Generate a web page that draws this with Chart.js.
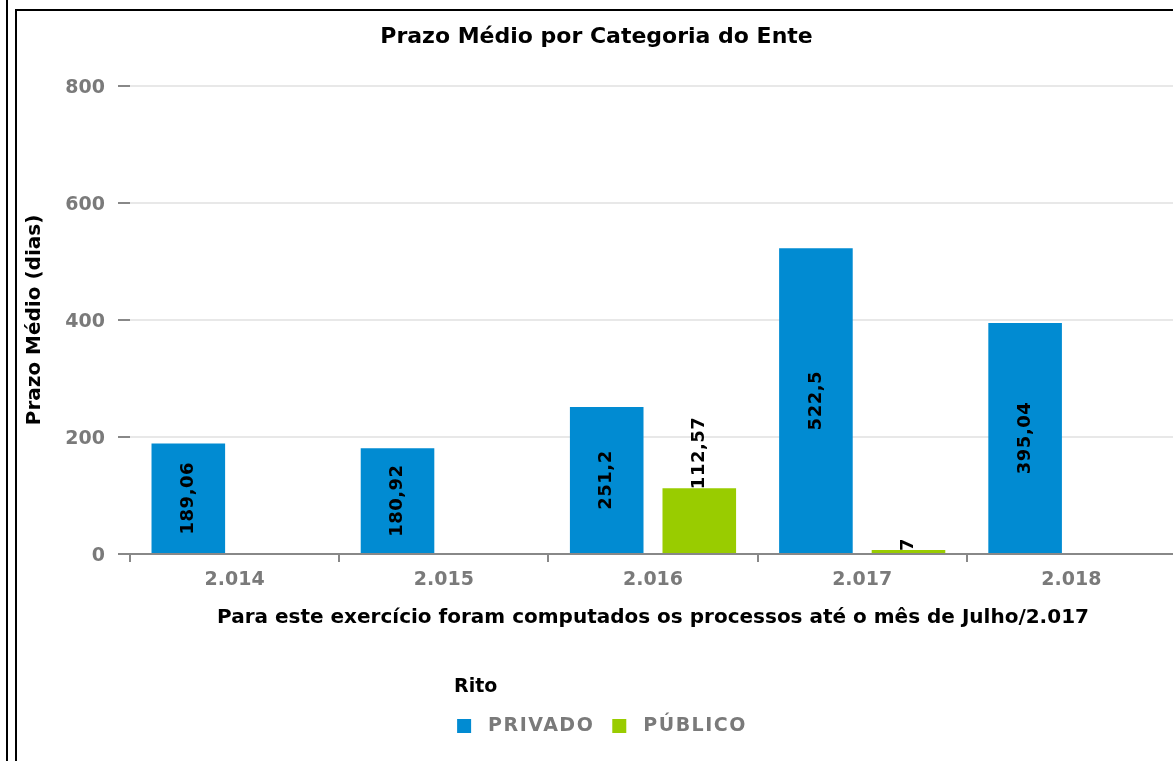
<!DOCTYPE html>
<html lang="pt-BR">
<head>
<meta charset="utf-8">
<title>Prazo Médio por Categoria do Ente</title>
<script src="https://cdn.jsdelivr.net/npm/chart.js@4/dist/chart.umd.min.js"></script>
<style>
  html, body { margin: 0; padding: 0; background: #fff; overflow: hidden; }
  #wrap { position: absolute; left: 0; top: 0; width: 1204px; height: 761px; }
  .moldura-a { position: absolute; left: 6px; top: 0; width: 2px; height: 761px; background: #000; }
  .moldura-b { position: absolute; left: 15px; top: 9px; width: 1200px; height: 800px;
               border-left: 2px solid #000; border-top: 2px solid #000; }
</style>
</head>
<body>
<div id="wrap"><canvas id="grafico" width="1204" height="761"></canvas></div>
<div class="moldura-a"></div>
<div class="moldura-b"></div>
<script>
// --- dados ---
const anos = ['2.014', '2.015', '2.016', '2.017', '2.018'];
const privado = [189.06, 180.92, 251.2, 522.5, 395.04];
const publico = [null, null, 112.57, 7, null];
const ticksY = [0, 200, 400, 600, 800];

const azul = '#018bd2';
const verde = '#99cc00';
const cinza = '#7a7a7a';
const fonte = '"DejaVu Sans", sans-serif';

// formata com vírgula decimal, como no original
function fmt(v) {
    return String(v).replace('.', ',');
}

// rótulos girados dentro (ou acima) das barras
const rotulosBarras = {
    id: 'rotulosBarras',
    afterDatasetsDraw(chart) {
        const ctx = chart.ctx;
        ctx.save();
        ctx.font = 'bold 18px ' + fonte;
        ctx.letterSpacing = '0.5px';
        ctx.fillStyle = '#000';
        ctx.textBaseline = 'middle';
        chart.data.datasets.forEach((ds, i) => {
            const meta = chart.getDatasetMeta(i);
            meta.data.forEach((bar, j) => {
                const v = ds.data[j];
                if (v == null) return;
                const txt = fmt(v);
                const w = ctx.measureText(txt).width;
                const h = bar.base - bar.y;
                ctx.save();
                ctx.translate(bar.x, 0);
                ctx.rotate(-Math.PI / 2);
                if (h > w + 10) {
                    ctx.textAlign = 'center';
                    ctx.fillText(txt, -(bar.y + h / 2), 0);
                } else {
                    ctx.textAlign = 'left';
                    ctx.fillText(txt, -(bar.y + 1), 0);
                }
                ctx.restore();
            });
        });
        ctx.restore();
    }
};

// legenda com título "Rito" embaixo
const legendaRito = {
    id: 'legendaRito',
    afterDraw(chart) {
        const ctx = chart.ctx;
        const area = chart.chartArea;
        ctx.save();
        ctx.font = 'bold 19px ' + fonte;
        ctx.letterSpacing = '1.5px';
        const itens = chart.data.datasets.map(ds => ({
            texto: ds.label, cor: ds.backgroundColor, w: ctx.measureText(ds.label).width
        }));
        const box = 14, gap = 17, entre = 18;
        let total = 0;
        itens.forEach((it, i) => { total += box + gap + it.w + (i ? entre : 0); });
        let x = chart.width / 2 - total / 2;
        const yTit = area.bottom + 133;
        const yItem = area.bottom + 172;

        ctx.fillStyle = '#000';
        ctx.textBaseline = 'middle';
        ctx.textAlign = 'left';
        ctx.letterSpacing = '0px';
        ctx.fillText('Rito', x - 3, yTit);

        ctx.letterSpacing = '1.5px';
        itens.forEach(it => {
            ctx.fillStyle = it.cor;
            ctx.fillRect(x, yItem - box / 2, box, box);
            ctx.fillStyle = cinza;
            ctx.fillText(it.texto, x + box + gap, yItem);
            x += box + gap + it.w + entre;
        });
        ctx.restore();
    }
};

const ctx = document.getElementById('grafico').getContext('2d');
new Chart(ctx, {
    type: 'bar',
    data: {
        labels: anos,
        datasets: [{
            label: 'PRIVADO',
            data: privado,
            backgroundColor: azul,
            barPercentage: 0.795,
            categoryPercentage: 0.885
        }, {
            label: 'PÚBLICO',
            data: publico,
            backgroundColor: verde,
            barPercentage: 0.795,
            categoryPercentage: 0.885
        }]
    },
    options: {
        responsive: false,
        animation: false,
        layout: { padding: { left: 17, right: 28, top: 0, bottom: 127 } },
        plugins: {
            legend: { display: false },
            tooltip: { enabled: false },
            title: {
                display: true,
                text: 'Prazo Médio por Categoria do Ente',
                color: '#000',
                font: { family: fonte, size: 22, weight: 'bold' },
                padding: { top: 24, bottom: 35.6 }
            }
        },
        scales: {
            x: {
                afterFit(scale) { scale.height = 80; },
                grid: {
                    display: true,
                    drawOnChartArea: false,
                    drawTicks: true,
                    offset: true,
                    tickLength: 8,
                    tickColor: '#888',
                    lineWidth: 2
                },
                border: { display: true, color: '#888', width: 2 },
                ticks: {
                    color: cinza,
                    padding: 7,
                    font: { family: fonte, size: 19, weight: 'bold' }
                },
                title: {
                    display: true,
                    text: 'Para este exercício foram computados os processos até o mês de Julho/2.017',
                    color: '#000',
                    font: { family: fonte, size: 20, weight: 'bold' },
                    padding: { top: 0, bottom: 4 }
                }
            },
            y: {
                min: 0,
                max: 800,
                afterFit(scale) { scale.width = 113; },
                afterBuildTicks(scale) { scale.ticks = ticksY.map(v => ({ value: v })); },
                grid: {
                    color: '#e8e8e8',
                    lineWidth: 2,
                    tickLength: 12,
                    tickColor: '#888'
                },
                border: { display: false },
                ticks: {
                    color: cinza,
                    padding: 13,
                    labelOffset: 2,
                    font: { family: fonte, size: 19, weight: 'bold' }
                },
                title: {
                    display: true,
                    text: 'Prazo Médio (dias)',
                    color: '#000',
                    font: { family: fonte, size: 20, weight: 'bold' },
                    padding: { top: 6, bottom: 0 }
                }
            }
        }
    },
    plugins: [rotulosBarras, legendaRito]
});
</script>
</body>
</html>
